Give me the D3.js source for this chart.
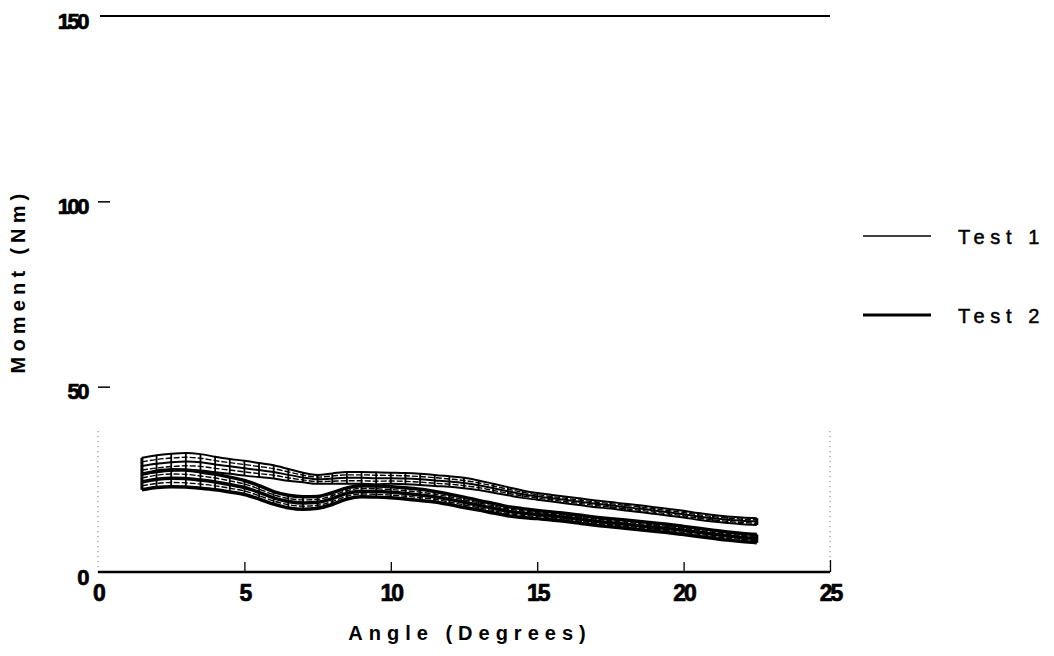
<!DOCTYPE html>
<html>
<head>
<meta charset="utf-8">
<script src="https://cdn.jsdelivr.net/npm/d3@7/dist/d3.min.js"></script>
<style>
  html, body { margin: 0; padding: 0; background: #fff; }
  svg { display: block; }
</style>
</head>
<body>
<svg id="chart" width="1054" height="656"></svg>
<script>
// ---- data ----
const angles = [1.5,2,2.5,3,3.5,4,4.5,5,5.5,6,6.5,7,7.5,8,8.5,9,9.5,10,10.5,11,11.5,12,12.5,13,13.5,14,14.5,15,15.5,16,16.5,17,17.5,18,18.5,19,19.5,20,20.5,21,21.5,22,22.5];
const test1Mean = [28.6,29.2,29.6,29.8,29.6,29.0,28.5,28.0,27.5,27.0,26.2,25.5,25.0,25.2,25.4,25.4,25.3,25.3,25.2,25.0,24.7,24.4,24.0,23.4,22.6,21.8,21.0,20.4,19.9,19.4,18.9,18.4,18.0,17.5,17.1,16.6,16.1,15.6,15.0,14.5,14.1,13.8,13.6];
const test1Err  = [2.2,2.3,2.3,2.3,2.2,2.1,2.0,2.0,1.9,1.8,1.6,1.3,1.2,1.4,1.6,1.6,1.6,1.5,1.5,1.5,1.5,1.4,1.4,1.3,1.2,1.1,1.0,0.9,0.9,0.9,0.9,0.9,0.9,0.9,0.9,0.9,0.9,0.9,0.9,0.9,0.9,0.9,0.9];
const test2Mean = [24.3,25.0,25.3,25.2,24.8,24.3,23.6,22.8,21.5,20.0,19.0,18.6,18.8,19.8,21.2,21.8,21.7,21.5,21.2,20.8,20.3,19.6,18.8,18.0,17.2,16.4,15.9,15.5,15.1,14.7,14.2,13.7,13.3,12.9,12.5,12.1,11.7,11.2,10.7,10.2,9.7,9.3,9.0];
const test2Err  = [2.1,2.2,2.3,2.3,2.2,2.1,2.0,1.9,1.8,1.7,1.7,1.7,1.6,1.6,1.5,1.5,1.5,1.5,1.5,1.5,1.4,1.4,1.4,1.3,1.3,1.2,1.2,1.1,1.1,1.1,1.1,1.1,1.1,1.1,1.1,1.1,1.1,1.1,1.1,1.1,1.1,1.1,1.1];
const seriesNames = ["Test 1", "Test 2"];
const xTicks = [0,5,10,15,20,25];
const yTicks = [0,50,100,150];
const xTitle = "Angle (Degrees)";
const yTitle = "Moment (Nm)";

const svg = d3.select("#chart");
const FONT = "'Liberation Sans', Arial, Helvetica, sans-serif";

const x = d3.scaleLinear().domain([0,25]).range([98,830]);
const y = d3.scaleLinear().domain([0,150]).range([572,16]);

// top frame line at 150
svg.append("line")
  .attr("x1", x(0) + 2).attr("x2", x(25))
  .attr("y1", y(150)).attr("y2", y(150))
  .attr("stroke", "#000").attr("stroke-width", 1.8);

// dotted left and right partial frame lines
[0,25].forEach(v => {
  svg.append("line")
    .attr("x1", x(v)).attr("x2", x(v))
    .attr("y1", y(38)).attr("y2", y(0))
    .attr("stroke", "#666").attr("stroke-width", 1)
    .attr("stroke-dasharray", "1,4");
});

// x axis
const xAxis = svg.append("g")
  .attr("transform", `translate(0,${y(0)})`)
  .call(d3.axisBottom(x).tickValues(xTicks).tickSize(-10).tickPadding(13).tickFormat(d3.format("d")));
xAxis.select(".domain").attr("stroke", "#000").attr("stroke-width", 2.4).attr("d", `M${x(0)},0H${x(25)}`);
xAxis.selectAll(".tick line").attr("stroke", "#000").attr("stroke-width", 1.3)
  .filter(d => d === 0 || d === 25).attr("y2", d => d === 25 ? -12 : 0);
xAxis.selectAll(".tick text")
  .attr("font-family", FONT).attr("font-weight", "bold").attr("font-size", 23)
  .attr("letter-spacing", -2).attr("fill", "#000")
  .attr("stroke", "#000").attr("stroke-width", 0.7);

// y axis
const yAxis = svg.append("g")
  .attr("transform", `translate(${x(0)},0)`)
  .call(d3.axisLeft(y).tickValues(yTicks).tickSize(-12).tickPadding(11).tickFormat(d3.format("d")));
yAxis.select(".domain").remove();
yAxis.selectAll(".tick line").attr("stroke", "#000").attr("stroke-width", 1.5)
  .filter(d => d === 0 || d === 150).remove();
yAxis.selectAll(".tick text")
  .attr("font-family", FONT).attr("font-weight", "bold").attr("font-size", 22)
  .attr("letter-spacing", -2.5).attr("fill", "#000").attr("dy", "0.55em")
  .attr("stroke", "#000").attr("stroke-width", 0.7);

// titles
svg.append("text")
  .attr("x", 470).attr("y", 640)
  .attr("text-anchor", "middle")
  .attr("font-family", FONT).attr("font-weight", "bold").attr("font-size", 20)
  .attr("letter-spacing", 6)
  .text(xTitle);

svg.append("text")
  .attr("transform", "translate(25,281) rotate(-90)")
  .attr("text-anchor", "middle")
  .attr("font-family", FONT).attr("font-weight", "bold").attr("font-size", 20)
  .attr("letter-spacing", 5.2)
  .text(yTitle);

// series
const series = [
  {name: seriesNames[0], mean: test1Mean, err: test1Err, w: 2},
  {name: seriesNames[1], mean: test2Mean, err: test2Err, w: 3.5}
];

const line = d3.line().x(d => x(d[0])).y(d => y(d[1])).curve(d3.curveMonotoneX);

series.forEach(s => {
  const g = svg.append("g");
  const mean = angles.map((a,i) => [a, s.mean[i]]);
  const up = angles.map((a,i) => [a, s.mean[i] + s.err[i]]);
  const lo = angles.map((a,i) => [a, s.mean[i] - s.err[i]]);
  const mid1 = angles.map((a,i) => [a, s.mean[i] + s.err[i]/2]);
  const mid2 = angles.map((a,i) => [a, s.mean[i] - s.err[i]/2]);
  // error bar stems
  g.selectAll("line.stem").data(angles).join("line")
    .attr("x1", a => x(a)).attr("x2", a => x(a))
    .attr("y1", (a,i) => y(s.mean[i] + s.err[i]))
    .attr("y2", (a,i) => y(s.mean[i] - s.err[i]))
    .attr("stroke", "#000").attr("stroke-width", 1.8);
  [up, lo].forEach(p => g.append("path").attr("d", line(p))
    .attr("fill", "none").attr("stroke", "#000").attr("stroke-width", s.w));
  [mid1, mid2].forEach(p => g.append("path").attr("d", line(p))
    .attr("fill", "none").attr("stroke", "#000").attr("stroke-width", 1.4)
    .attr("stroke-dasharray", "6,2"));
  g.append("path").attr("d", line(mean))
    .attr("fill", "none").attr("stroke", "#000").attr("stroke-width", s.w);
  // end caps
  [0, angles.length - 1].forEach(i => {
    const a = angles[i];
    g.append("line").attr("x1", x(a)).attr("x2", x(a))
      .attr("y1", y(s.mean[i] + s.err[i])).attr("y2", y(s.mean[i] - s.err[i]))
      .attr("stroke", "#000").attr("stroke-width", 3);
  });
});

// legend
const legY = [236, 315];
series.forEach((s, k) => {
  svg.append("line")
    .attr("x1", 863).attr("x2", 931).attr("y1", legY[k]).attr("y2", legY[k])
    .attr("stroke", "#000").attr("stroke-width", k === 0 ? 1.6 : 3);
  svg.append("text")
    .attr("x", 958).attr("y", legY[k] + 8)
    .attr("font-family", FONT).attr("font-size", 20)
    .attr("letter-spacing", 5.6)
    .attr("stroke", "#000").attr("stroke-width", 0.5)
    .text(s.name);
});
</script>
</body>
</html>
